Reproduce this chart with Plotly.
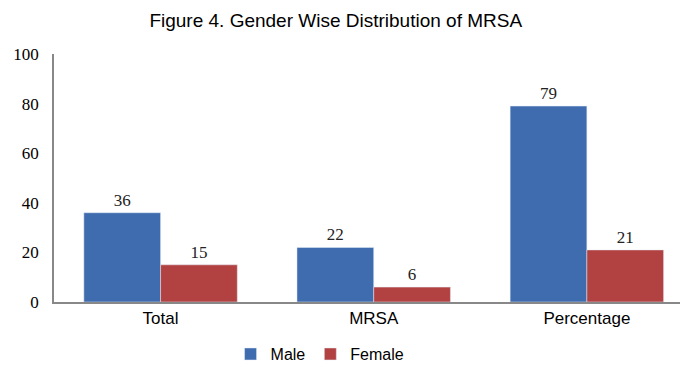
import plotly.graph_objects as go

categories = ["Total", "MRSA", "Percentage"]
male = [36, 22, 79]
female = [15, 6, 21]
y_ticks = [0, 20, 40, 60, 80, 100]

fig = go.Figure()
fig.add_trace(go.Bar(name="Male", x=categories, y=male, marker_color="#3F6BAF",
                     text=male, textposition="outside", cliponaxis=False,
                     textfont=dict(family="Liberation Serif", size=17, color="#222")))
fig.add_trace(go.Bar(name="Female", x=categories, y=female, marker_color="#B24242",
                     text=female, textposition="outside", cliponaxis=False,
                     textfont=dict(family="Liberation Serif", size=17, color="#222")))

# page body has an 8px default margin, so the figure is 680x368 and margins compensate
fig.update_layout(
    width=680, height=368,
    paper_bgcolor="white", plot_bgcolor="white",
    margin=dict(l=46, r=8, t=46, b=74, autoexpand=False),
    barmode="group", bargap=0.28, bargroupgap=0,
    title=dict(text="Figure 4. Gender Wise Distribution of MRSA", x=0.482, xanchor="center",
               y=0.967, yanchor="middle",
               font=dict(family="Liberation Sans", size=19, color="black")),
    xaxis=dict(range=[-0.5, 2.437], showline=True, linecolor="#888", linewidth=1.5,
               showgrid=False, ticks="", automargin=False, ticklabelstandoff=0,
               tickfont=dict(family="Liberation Sans", size=17, color="black")),
    yaxis=dict(range=[0, 100], tickvals=y_ticks, showline=True, linecolor="#888", linewidth=1.5,
               showgrid=False, zeroline=False, ticks="", ticklabelstandoff=10, automargin=False,
               tickfont=dict(family="Liberation Serif", size=17, color="black")),
    legend=dict(orientation="h", x=0.425, xanchor="center", y=-0.21, yanchor="middle",
                font=dict(family="Liberation Sans", size=16, color="black"),
                itemwidth=30),
    showlegend=True,
)

fig.write_html("out.html")
